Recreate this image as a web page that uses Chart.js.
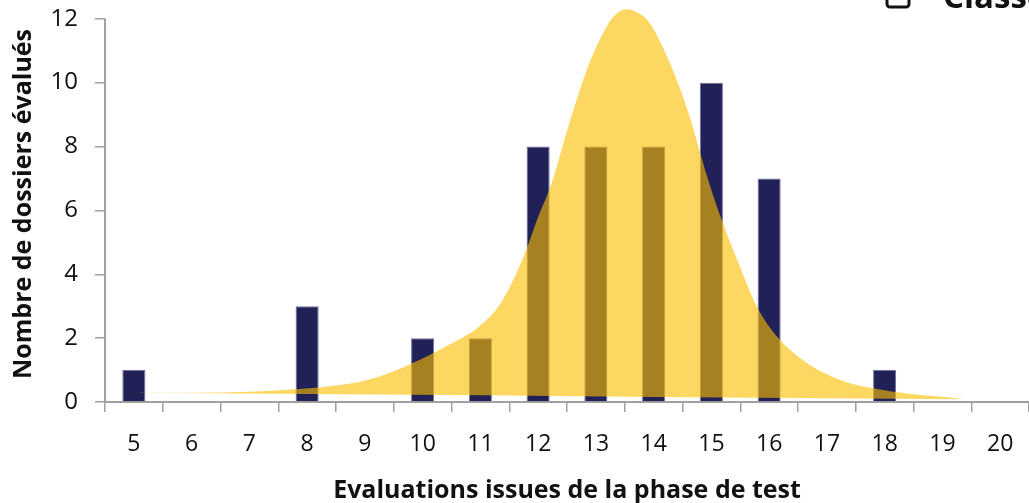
<!DOCTYPE html>
<html>
<head>
<meta charset="utf-8">
<script src="https://cdn.jsdelivr.net/npm/chart.js@4"></script>
<style>
  html, body { margin: 0; padding: 0; background: #fff; overflow: hidden; }
  #wrap { width: 1029px; height: 503px; position: relative; }
</style>
</head>
<body>
<div id="wrap"><canvas id="chart"></canvas></div>
<script>
// Scores (categories) and number of files per score
const categories = ['5', '6', '7', '8', '9', '10', '11', '12', '13', '14', '15', '16', '17', '18', '19', '20'];
const counts = [1, 0, 0, 3, 0, 2, 2, 8, 8, 8, 10, 7, 0, 1, 0, 0];

// Yellow distribution shape: upper edge
const curveX = [5.1, 6.0, 7.0, 7.8, 8.5, 8.9, 9.24, 9.82, 10.39, 10.97, 11.31, 11.54, 11.77, 12.0, 12.23, 12.52, 12.86, 13.21, 13.38, 13.54, 13.72, 13.9, 14.24, 14.59, 14.93, 15.16, 15.45, 15.79, 16.14, 16.66, 17.23, 17.8, 18.38, 18.95, 19.38];
const curveTop = [0.30, 0.29, 0.32, 0.40, 0.52, 0.63, 0.79, 1.21, 1.73, 2.35, 2.98, 3.71, 4.65, 5.79, 6.83, 8.6, 10.48, 11.83, 12.2, 12.3, 12.2, 11.94, 10.79, 9.13, 7.04, 5.79, 4.44, 2.98, 2.04, 1.21, 0.69, 0.43, 0.27, 0.17, 0.09];

// Yellow distribution shape: lower edge
const baseX = [5.1, 8, 11, 14, 17, 19.38];
const baseY = [0.29, 0.25, 0.21, 0.16, 0.12, 0.085];

const yTicks = [0, 2, 4, 6, 8, 10, 12];
const legendText = 'Classement';

const FONT = '"Open Sans", "Noto Sans", sans-serif';
const AXIS_GREY = '#a0a0a0';

// y axis line only runs from 0 to 12, the curve peaks a bit above it
const yAxisLine = {
    id: 'yAxisLine',
    afterDraw(chart) {
        const y = chart.scales.y;
        const c = chart.ctx;
        c.save();
        c.strokeStyle = AXIS_GREY;
        c.lineWidth = 2;
        c.beginPath();
        c.moveTo(y.right, y.getPixelForValue(12));
        c.lineTo(y.right, y.getPixelForValue(0));
        c.stroke();
        c.restore();
    }
};

// Legend box sits partly outside the picture, as in the source
const cutLegend = {
    id: 'cutLegend',
    afterDraw(chart) {
        const c = chart.ctx;
        c.save();
        c.lineWidth = 3;
        c.strokeStyle = '#111';
        c.fillStyle = '#fff';
        c.beginPath();
        c.roundRect(887, -16, 22, 23, 3);
        c.fill();
        c.stroke();
        c.fillStyle = '#111';
        c.font = 'bold 33px ' + FONT;
        c.textBaseline = 'alphabetic';
        c.fillText(legendText, 943, 8);
        c.restore();
    }
};

const ctx = document.getElementById('chart').getContext('2d');
new Chart(ctx, {
    data: {
        labels: categories,
        datasets: [{
            type: 'line',
            xAxisID: 'xc',
            data: baseX.map((x, i) => ({ x: x, y: baseY[i] })),
            borderWidth: 0,
            pointRadius: 0,
            fill: false,
            order: 1
        }, {
            type: 'line',
            xAxisID: 'xc',
            data: curveX.map((x, i) => ({ x: x, y: curveTop[i] })),
            borderWidth: 0,
            pointRadius: 0,
            cubicInterpolationMode: 'monotone',
            backgroundColor: 'rgba(250, 191, 0, 0.61)',
            fill: '-1',
            order: 1
        }, {
            type: 'bar',
            xAxisID: 'x',
            data: counts,
            backgroundColor: '#212057',
            borderColor: '#70709c',
            borderWidth: 1,
            grouped: false,
            categoryPercentage: 1,
            barPercentage: 0.4,
            order: 3
        }]
    },
    options: {
        responsive: true,
        maintainAspectRatio: false,
        animation: false,
        layout: { padding: { top: 6, right: 0, left: 0, bottom: 0 } },
        plugins: {
            legend: { display: false },
            tooltip: { enabled: false }
        },
        scales: {
            x: {
                type: 'category',
                offset: true,
                border: { color: AXIS_GREY, width: 2 },
                grid: {
                    offset: true,
                    drawOnChartArea: false,
                    drawTicks: true,
                    tickLength: 10,
                    color: AXIS_GREY,
                    lineWidth: 1.5
                },
                ticks: {
                    color: '#111',
                    font: { family: FONT, size: 23 },
                    padding: 19,
                    maxRotation: 0,
                    autoSkip: false
                },
                title: {
                    display: true,
                    text: 'Evaluations issues de la phase de test',
                    color: '#111',
                    font: { family: FONT, size: 25, weight: 'bold', lineHeight: 1 },
                    padding: { top: 4, bottom: 0 }
                },
                afterFit(scale) {
                    scale.height = 101;
                    scale.paddingLeft = 0;
                    scale.paddingRight = 0;
                }
            },
            xc: {
                type: 'linear',
                display: false,
                min: 4.5,
                max: 20.5
            },
            y: {
                min: 0,
                max: 12.4,
                border: { display: false },
                grid: {
                    drawOnChartArea: false,
                    drawTicks: true,
                    tickLength: 10,
                    color: AXIS_GREY,
                    lineWidth: 1.5
                },
                afterBuildTicks(scale) {
                    scale.ticks = yTicks.map(v => ({ value: v }));
                },
                ticks: {
                    color: '#111',
                    font: { family: FONT, size: 24 },
                    padding: 17
                },
                title: {
                    display: true,
                    text: 'Nombre de dossiers évalués',
                    color: '#111',
                    font: { family: FONT, size: 25, weight: 'bold' },
                    padding: { top: 9, bottom: 0 }
                },
                afterFit(scale) {
                    scale.width = 105;
                    scale.paddingTop = 0;
                    scale.paddingBottom = 0;
                }
            }
        }
    },
    plugins: [yAxisLine, cutLegend]
});
</script>
</body>
</html>
